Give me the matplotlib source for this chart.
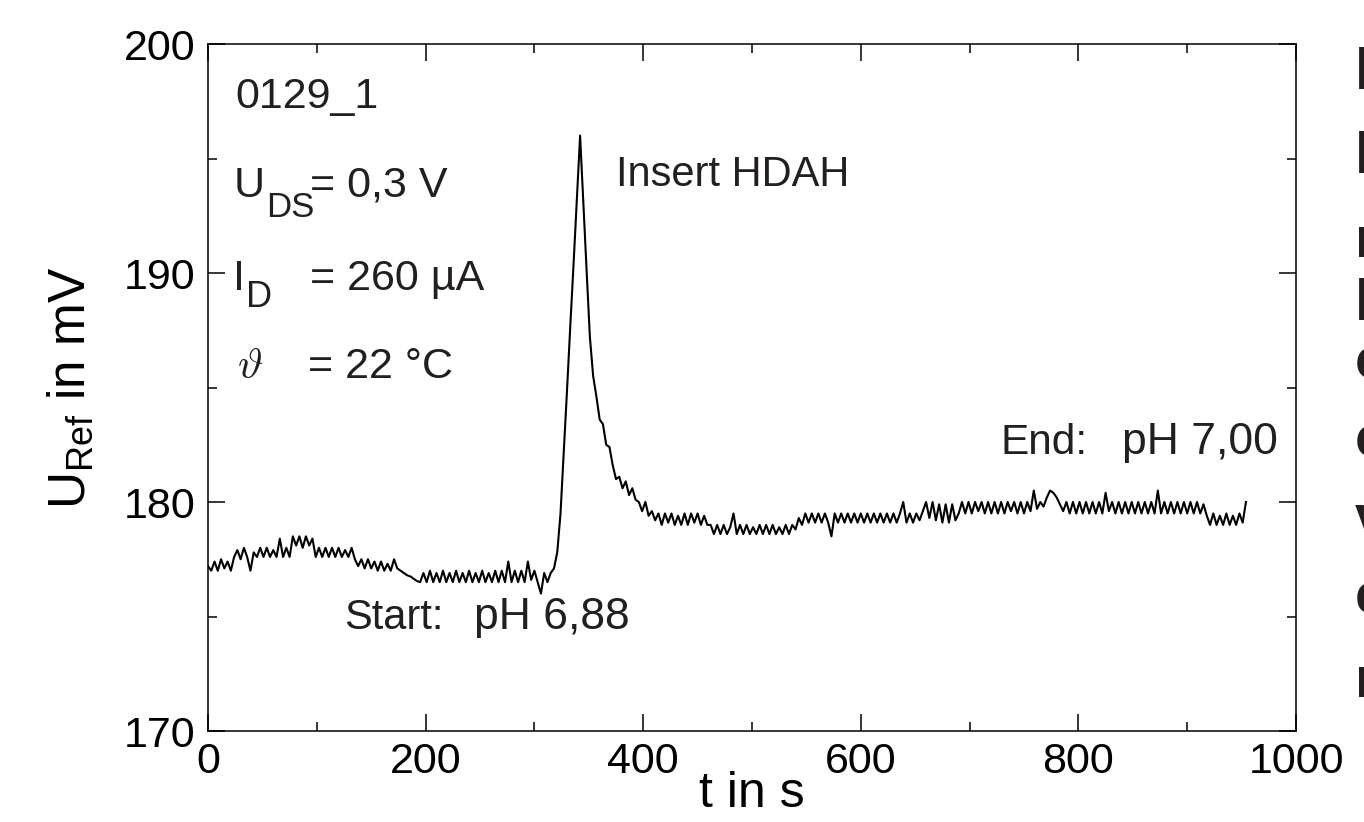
"""U_Ref transient after inserting HDAH (recreated chart)."""
import matplotlib

matplotlib.use("Agg")
import matplotlib.pyplot as plt
import numpy as np
from matplotlib.ticker import MultipleLocator

plt.rcParams["font.family"] = ["Liberation Sans", "DejaVu Sans"]
plt.rcParams["mathtext.fontset"] = "custom"
plt.rcParams["mathtext.rm"] = "Liberation Sans"
plt.rcParams["mathtext.it"] = "Liberation Sans:italic"

# samples every 3 s, starting at t = 0
T_STEP = 3

# t = 0 ... 318 s, baseline before insertion (pH 6,88)
u_start = [
    177.2, 177.0, 177.4, 177.0, 177.5, 177.1, 177.4, 177.0,
    177.6, 177.9, 177.5, 178.0, 177.6, 177.0, 177.8, 177.6,
    178.0, 177.6, 178.0, 177.6, 177.9, 177.6, 178.4, 177.6,
    178.0, 177.6, 178.5, 178.1, 178.5, 178.0, 178.5, 178.1,
    178.4, 177.6, 178.0, 177.6, 178.0, 177.6, 178.0, 177.6,
    178.0, 177.6, 177.9, 177.6, 178.0, 177.5, 177.2, 177.5,
    177.1, 177.5, 177.1, 177.4, 177.0, 177.4, 177.0, 177.3,
    177.0, 177.5, 177.1, 177.0, 176.9, 176.8, 176.75, 176.65,
    176.55, 176.5, 176.9, 176.5, 177.0, 176.5, 176.9, 176.5,
    177.0, 176.5, 176.9, 176.5, 177.0, 176.5, 176.9, 176.5,
    177.0, 176.5, 176.9, 176.5, 177.0, 176.5, 176.9, 176.5,
    177.0, 176.5, 177.0, 176.5, 177.4, 176.5, 177.0, 176.5,
    177.0, 176.5, 177.4, 176.6, 177.0, 176.5, 176.0, 176.9,
    176.5, 176.9, 177.1,
]

# t = 321 ... 411 s, HDAH inserted: peak and decay
u_peak = [
    177.8, 179.5, 182.2, 184.9, 187.7, 190.4, 193.2, 196.0,
    193.0, 190.1, 187.2, 185.5, 184.6, 183.6, 183.4, 182.5,
    182.4, 181.6, 181.0, 181.1, 180.6, 180.9, 180.3, 180.6,
    180.1, 180.0, 179.6, 180.0, 179.4, 179.6, 179.2,
]

# t = 414 ... 960 s, new baseline (pH 7,00)
u_end = [
    179.5, 179.0, 179.5, 179.1, 179.5, 179.0, 179.4, 179.0,
    179.5, 179.0, 179.5, 179.1, 179.5, 179.0, 179.4, 179.0,
    179.0, 178.6, 179.0, 178.6, 179.0, 178.6, 178.9, 179.5,
    178.6, 179.0, 178.6, 179.0, 178.6, 178.9, 178.6, 179.0,
    178.6, 179.0, 178.6, 179.0, 178.6, 178.9, 178.6, 179.0,
    178.6, 179.0,
    178.8, 179.3, 179.0, 179.5, 179.1, 179.5, 179.1, 179.5, 179.1,
    179.5, 179.1, 178.5, 179.5, 179.1, 179.5, 179.1, 179.5,
    179.1, 179.5, 179.1, 179.5, 179.1, 179.5, 179.1, 179.5,
    179.1, 179.5, 179.1, 179.5, 179.1, 179.5, 179.1, 179.5,
    180.0,
    179.1, 179.5, 179.1, 179.5, 179.2,
    179.6, 180.0, 179.3, 180.0, 179.2, 179.9, 179.1,
    179.9, 179.1, 179.9, 179.2, 179.5,
    180.0, 179.5, 180.0, 179.5, 180.0, 179.6, 180.0, 179.5,
    180.0, 179.5, 180.0, 179.5, 180.0, 179.5, 180.0, 179.6,
    180.0, 179.5, 180.0, 179.5, 180.0, 179.6,
    180.5, 179.7, 180.0, 179.8, 180.2, 180.5, 180.4, 180.2,
    179.9, 179.6,
    180.0, 179.5, 180.0, 179.5, 180.0, 179.5, 180.0, 179.5,
    180.0, 179.5, 180.0, 179.5,
    180.4,
    179.6, 180.0, 179.5, 180.0, 179.5, 180.0, 179.5, 180.0,
    179.5, 180.0, 179.5, 180.0, 179.5, 180.0, 179.5, 180.5,
    179.5, 180.0, 179.5, 180.0, 179.5, 180.0, 179.5, 180.0,
    179.5, 180.0, 179.5, 180.0, 179.5, 179.9,
    179.4, 179.0,
    179.5, 179.0, 179.4, 179.0, 179.5, 179.0, 179.4, 179.0,
    179.5, 179.1,
    180.0,
]

u_ref = np.array(u_start + u_peak + u_end)
t = T_STEP * np.arange(len(u_ref))

TXT = "#231f20"

fig = plt.figure(figsize=(13.64, 8.22), dpi=100)
ax = fig.add_axes([208 / 1364, 1 - 731 / 822, 1088 / 1364, 687 / 822])

ax.plot(t, u_ref, "-", color="black", lw=1.5)

ax.set_xlim(0, 1000)
ax.set_ylim(170, 200)
ax.xaxis.set_major_locator(MultipleLocator(200))
ax.xaxis.set_minor_locator(MultipleLocator(100))
ax.yaxis.set_major_locator(MultipleLocator(10))
ax.yaxis.set_minor_locator(MultipleLocator(5))
ax.tick_params(which="both", direction="in", top=True, right=True,
               width=1.1, labelsize=31)
ax.tick_params(which="major", length=12)
ax.tick_params(which="minor", length=6.5)
ax.tick_params(axis="x", pad=8)
ax.tick_params(axis="y", pad=9)
for s in ax.spines.values():
    s.set_linewidth(1.1)

ax.set_xlabel("t in s", fontsize=36, va="baseline")
ax.xaxis.set_label_coords(0.5, -0.1106)
ax.set_ylabel(r"$\mathregular{U_{Ref}}$ in mV", fontsize=37)
ax.yaxis.set_label_coords(-0.103, 0.5)

# measurement conditions
ax.text(25, 197.2, "0129_1", fontsize=31, color=TXT)

ax.text(24, 193.32, "U", fontsize=31, color=TXT)
ax.text(53.5, 192.45, "DS", fontsize=25, color=TXT)
ax.text(93.7, 193.32, "= 0,3 V", fontsize=31, color=TXT)

ax.text(23, 189.26, "I", fontsize=31, color=TXT)
ax.text(35, 188.52, "D", fontsize=26, color=TXT)
ax.text(93.7, 189.26, "= 260 µA", fontsize=31, color=TXT)

ax.text(26.5, 185.4, r"$\vartheta$", fontsize=31, color=TXT,
        math_fontfamily="cm")
ax.text(92, 185.4, "= 22 °C", fontsize=31, color=TXT)

ax.text(375, 193.8, "Insert HDAH", fontsize=30, color=TXT)
ax.text(125, 174.45, "Start:", fontsize=30, color=TXT)
ax.text(244.5, 174.45, "pH 6,88", fontsize=32, color=TXT)
ax.text(728, 182.1, "End:", fontsize=30.5, color=TXT)
ax.text(840, 182.1, "pH 7,00", fontsize=32, color=TXT)

# cut-off letters of the neighbouring text column
edge_letters = ["l", "l", "n", "l", "c", "c", "v", "e", "n"]
edge_baselines = [89, 173, 257, 320, 378, 456, 535, 614, 697]
for ch, yb in zip(edge_letters, edge_baselines):
    fig.text(1355 / 1364, 1 - yb / 822, ch, fontsize=42, fontweight="bold",
             color=TXT, ha="left", va="baseline")

fig.savefig("out.png", dpi=100)
plt.close(fig)
